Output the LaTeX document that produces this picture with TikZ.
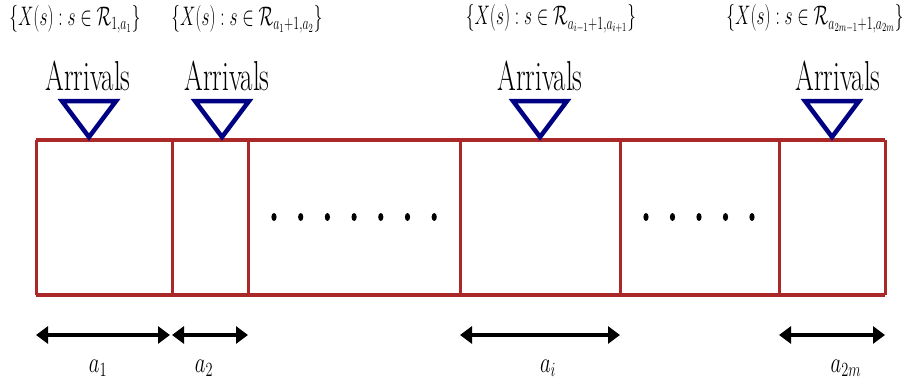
\documentclass[tikz,border=0pt]{standalone}
\usepackage{amsmath,amssymb}
\usetikzlibrary{arrows.meta}
\definecolor{boxred}{RGB}{170,40,40}
\definecolor{navy}{RGB}{0,0,130}
\tikzset{
  wall/.style={draw=boxred,line width=3pt},
  rail/.style={draw=boxred,line width=4.5pt},
  arrtri/.style={draw=navy,line width=4.5pt,line join=miter},
  span/.style={draw=black,line width=4pt,{Triangle[length=12pt,width=17pt]}-{Triangle[length=12pt,width=17pt]}},
  arrlab/.style={font=\fontsize{27}{32}\selectfont,inner sep=0pt},
  setlab/.style={font=\fontsize{17}{20}\selectfont,inner sep=0pt},
  lenlab/.style={font=\fontsize{22}{26}\selectfont,inner sep=0pt},
  dot/.style={fill=black,draw=none}
}
\newcommand{\stretchy}[1]{\scalebox{1}[1.55]{#1}}
\begin{document}
\begin{tikzpicture}[x=1pt,y=-1pt]
\useasboundingbox (0,0) rectangle (919,383);
% corners
\coordinate (tl) at (36,140);
\coordinate (tr) at (885,140);
\coordinate (bl) at (36,295);
\coordinate (br) at (885,295);
\foreach \n/\x in {v1/172,v2/248,v3/460,v4/620,v5/779}{
  \coordinate (\n t) at (\x,140);
  \coordinate (\n b) at (\x,295);
}
\draw[wall] (tl) -- (bl);
\draw[wall] (tr) -- (br);
\foreach \n in {v1,v2,v3,v4,v5}{\draw[wall] (\n t) -- (\n b);}
\draw[rail] (tl) -- (tr);
\draw[rail] (bl) -- (br);
% triangles
\foreach \n/\x in {t1/89,t2/222,t3/540,t4/832}{
  \coordinate (\n a) at (\x,137);
  \coordinate (\n l) at ({\x-27},101);
  \coordinate (\n r) at ({\x+27},101);
  \draw[arrtri] (\n a) -- (\n l) -- (\n r) -- cycle;
}
% Arrivals labels
\node[arrlab] (A1) at (88,76) {\stretchy{Arrivals}};
\node[arrlab] (A2) at (227,76) {\stretchy{Arrivals}};
\node[arrlab] (A3) at (540,76) {\stretchy{Arrivals}};
\node[arrlab] (A4) at (838,76) {\stretchy{Arrivals}};
% set labels
\node[setlab] (S1) at (75,19) {\stretchy{$\{X(s): s\in\mathcal{R}_{1,a_1}\}$}};
\node[setlab] (S2) at (247,19) {\stretchy{$\{X(s): s\in\mathcal{R}_{a_1+1,a_2}\}$}};
\node[setlab] (S3) at (551,19) {\stretchy{$\{X(s): s\in\mathcal{R}_{a_{i-1}+1,a_{i+1}}\}$}};
\node[setlab] (S4) at (815,19) {\stretchy{$\{X(s): s\in\mathcal{R}_{a_{2m-1}+1,a_{2m}}\}$}};
% dots
\foreach \i in {0,...,6}{\fill[dot] ({274+26.7*\i},217) ellipse (2.6pt and 4pt);}
\foreach \i in {0,...,4}{\fill[dot] ({646+26.5*\i},217) ellipse (2.6pt and 4pt);}
% spans
\coordinate (p0) at (36,335);
\coordinate (p1) at (170,335);
\coordinate (p1b) at (172,335);
\coordinate (p2) at (248,335);
\coordinate (p3) at (460,335);
\coordinate (p4) at (620,335);
\coordinate (p5) at (779,335);
\coordinate (p6) at (885,335);
\draw[span] (p0) -- (p1);
\draw[span] (p1b) -- (p2);
\draw[span] (p3) -- (p4);
\draw[span] (p5) -- (p6);
\node[lenlab] (L1) at (98,368) {\scalebox{1}[1.4]{$a_1$}};
\node[lenlab] (L2) at (204,368) {\scalebox{1}[1.4]{$a_2$}};
\node[lenlab] (L3) at (548,368) {\scalebox{1}[1.4]{$a_i$}};
\node[lenlab] (L4) at (846,368) {\scalebox{1}[1.4]{$a_{2m}$}};
\end{tikzpicture}
\end{document}
